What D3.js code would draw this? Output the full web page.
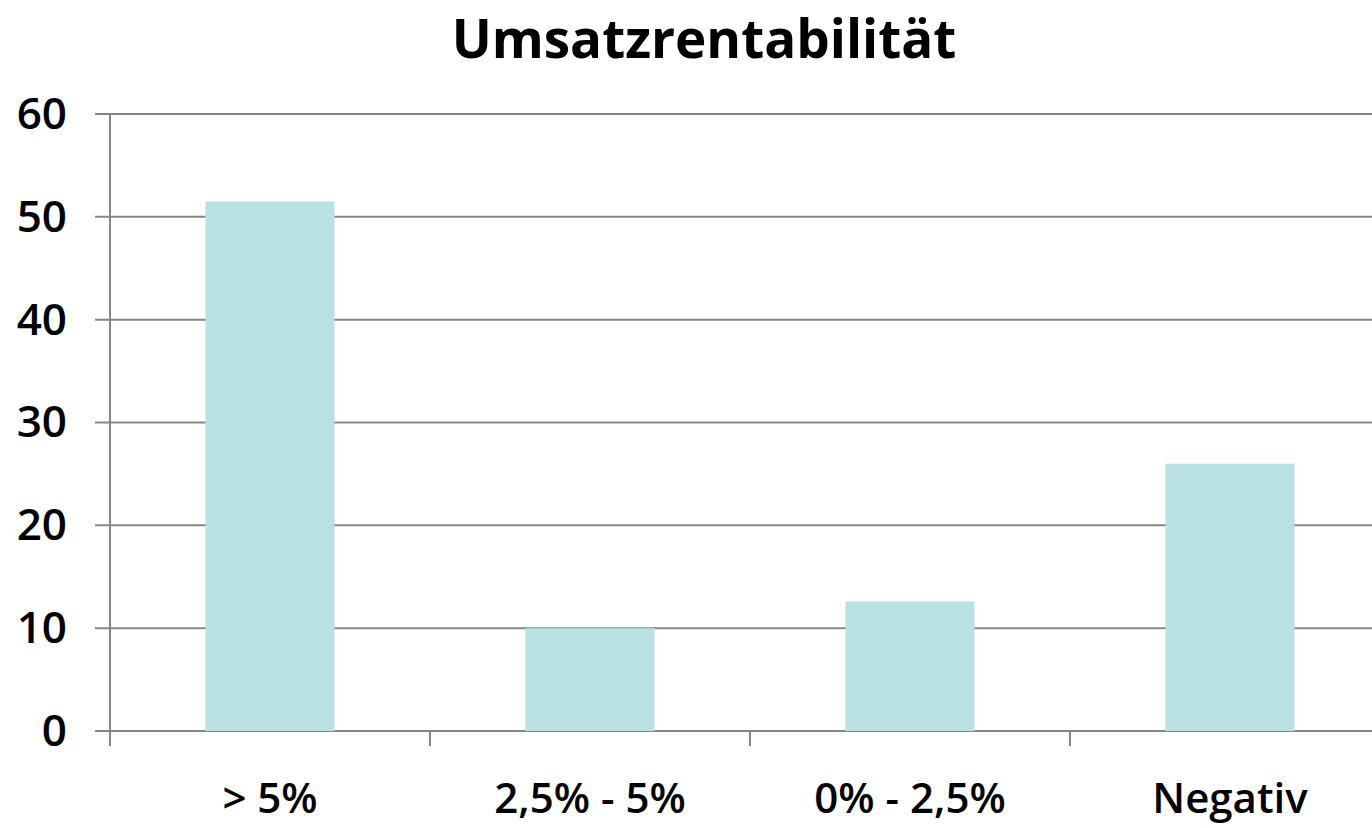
<!DOCTYPE html>
<html><head><meta charset="utf-8">
<script src="https://cdn.jsdelivr.net/npm/d3@7"></script>
<style>body{margin:0;background:#fff}svg{display:block}</style>
</head><body>
<svg id="c" width="1372" height="828"></svg>
<script>
const categories = ["> 5%", "2,5% - 5%", "0% - 2,5%", "Negativ"];
const values = [51.5, 10.0, 12.6, 26.0];
const yTicks = [0, 10, 20, 30, 40, 50, 60];
const title = "Umsatzrentabilität";

(function () {
const svg = d3.select("#c");
const mL = 110, mR = 1390, mT = 114, mB = 731;
const xb = d3.scaleBand().domain(categories).range([mL, mR]);
const y = d3.scaleLinear().domain([0, 60]).range([mB, mT]);
const grey = "#868686";
const font = "'Open Sans', sans-serif";

svg.append("g").selectAll("line").data(yTicks).join("line")
  .attr("x1", mL - 15).attr("x2", 1372)
  .attr("y1", d => y(d)).attr("y2", d => y(d))
  .attr("stroke", grey).attr("stroke-width", 2);

svg.append("g").selectAll("rect").data(values).join("rect")
  .attr("x", (d, i) => xb(categories[i]) + xb.bandwidth() / 2 - 64.5)
  .attr("width", 129)
  .attr("y", d => y(d)).attr("height", d => y(0) - y(d))
  .attr("fill", "#b9e0e3");

svg.append("line").attr("x1", mL).attr("x2", mL).attr("y1", mT).attr("y2", mB + 15)
  .attr("stroke", grey).attr("stroke-width", 2);
const bounds = categories.map(c => xb(c)).concat([mR]);
svg.append("g").selectAll("line").data(bounds).join("line")
  .attr("x1", d => d).attr("x2", d => d).attr("y1", mB).attr("y2", mB + 15)
  .attr("stroke", grey).attr("stroke-width", 2);

svg.append("g").selectAll("text").data(yTicks).join("text")
  .attr("x", 67).attr("y", d => y(d)).attr("dy", "0.34em")
  .attr("text-anchor", "end").attr("font-family", font).attr("font-size", 44)
  .attr("font-weight", 600).attr("fill", "#000").text(d => d);

svg.append("g").selectAll("text").data(categories).join("text")
  .attr("x", d => xb(d) + xb.bandwidth() / 2).attr("y", 813)
  .attr("text-anchor", "middle").attr("font-family", font).attr("font-size", 42)
  .attr("font-weight", 600).attr("fill", "#000").text(d => d);

svg.append("text").attr("x", 704).attr("y", 58).attr("text-anchor", "middle")
  .attr("font-family", font).attr("font-weight", "bold").attr("font-size", 53)
  .attr("fill", "#000").text(title);
})();
</script>
</body></html>
